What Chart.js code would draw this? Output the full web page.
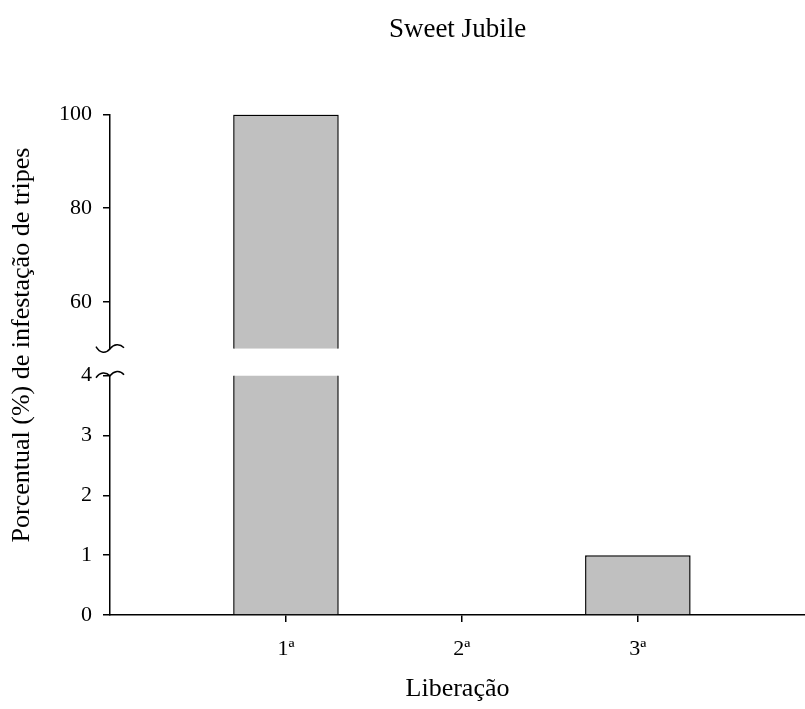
<!DOCTYPE html>
<html><head><meta charset="utf-8">
<script src="https://cdn.jsdelivr.net/npm/chart.js@4/dist/chart.umd.min.js"></script>
<style>html,body{margin:0;padding:0;background:#fff}#wrap{width:805px;height:709px;position:relative}</style>
</head><body><div id="wrap"><canvas id="c" width="805" height="709"></canvas></div>
<script>
const categories = ['1ª', '2ª', '3ª'];
const positions = [1, 2, 3];
const infestation = [100, 0, 1];
const upperTicks = [60, 80, 100];
const lowerTicks = [0, 1, 2, 3, 4];
const chartTitle = 'Sweet Jubile';
const xTitle = 'Liberação';
const yTitle = 'Porcentual (%) de infestação de tripes';

const FONT = "'Liberation Serif', 'Times New Roman', serif";
const BAR_FILL = '#c0c0c0';
const INK = '#000';

const points = positions.map((p, i) => ({x: p, y: infestation[i]}));

const clipPlugin = {
  id: 'clipToAxis',
  beforeDatasetDraw(chart, args) {
    const ds = chart.data.datasets[args.index];
    const sc = chart.scales[ds.yAxisID];
    const ctx = chart.ctx;
    ctx.save();
    ctx.beginPath();
    ctx.rect(chart.chartArea.left, sc.top - 2, chart.chartArea.right - chart.chartArea.left, sc.bottom - sc.top + 2);
    ctx.clip();
  },
  afterDatasetDraw(chart) { chart.ctx.restore(); }
};

const decoPlugin = {
  id: 'deco',
  afterDraw(chart) {
    const ctx = chart.ctx;
    const x0 = chart.chartArea.left;
    const yHi = chart.scales.yHigh.bottom;
    const yLo = chart.scales.yLow.top;
    ctx.save();
    ctx.strokeStyle = INK;
    ctx.lineWidth = 1.5;
    // break marks
    ctx.beginPath();
    ctx.moveTo(x0 - 14, yHi - 2);
    ctx.bezierCurveTo(x0 - 10, yHi + 5, x0 - 4, yHi + 5, x0, yHi);
    ctx.bezierCurveTo(x0 + 4, yHi - 5, x0 + 10, yHi - 5, x0 + 14, yHi - 1);
    ctx.stroke();
    ctx.beginPath();
    ctx.moveTo(x0 - 14, yLo + 2);
    ctx.bezierCurveTo(x0 - 10, yLo - 4, x0 - 4, yLo - 4, x0, yLo);
    ctx.bezierCurveTo(x0 + 4, yLo - 5, x0 + 10, yLo - 6, x0 + 14, yLo - 1);
    ctx.stroke();
    // y axis title
    ctx.fillStyle = INK;
    ctx.font = "26px " + FONT;
    ctx.textAlign = 'center';
    ctx.textBaseline = 'middle';
    ctx.translate(22, 345);
    ctx.rotate(-Math.PI / 2);
    ctx.fillText(yTitle, 0, 0);
    ctx.restore();
  }
};

const tickStyle = {color: INK, font: {family: FONT, size: 22}};
const gridStyle = {display: true, offset: false, drawOnChartArea: false, drawTicks: true, tickLength: 7, color: INK, lineWidth: 1.5};
const borderStyle = {display: true, color: INK, width: 1.5};

new Chart(document.getElementById('c'), {
  type: 'bar',
  data: {
    datasets: [
      {data: points, yAxisID: 'yLow', xAxisID: 'x', backgroundColor: BAR_FILL, borderColor: INK, borderWidth: 1.5, borderSkipped: 'start'},
      {data: points, yAxisID: 'yHigh', xAxisID: 'x', backgroundColor: BAR_FILL, borderColor: INK, borderWidth: 1.5, borderSkipped: 'start'}
    ]
  },
  options: {
    responsive: false,
    devicePixelRatio: 1,
    animation: false,
    grouped: false,
    barPercentage: 0.75,
    categoryPercentage: 0.8,
    layout: {padding: {left: 0, right: 0, top: 0, bottom: 0}},
    plugins: {
      legend: {display: false},
      tooltip: {enabled: false},
      title: {display: true, text: chartTitle, color: INK, font: {family: FONT, size: 27, weight: 'normal'}, padding: {top: 14, bottom: 68}, fullSize: false}
    },
    scales: {
      x: {
        type: 'linear', position: 'bottom', min: 0, max: 3.95, offset: false,
        afterBuildTicks: s => { s.ticks = positions.map(v => ({value: v})); },
        afterFit: s => { s.height = 94; },
        ticks: Object.assign({}, tickStyle, {padding: 14, callback: v => categories[positions.indexOf(v)]}),
        grid: gridStyle, border: borderStyle,
        title: {display: true, text: xTitle, color: INK, font: {family: FONT, size: 26}, padding: {top: 4, bottom: 4}}
      },
      yHigh: {
        type: 'linear', position: 'left', stack: 'v', stackWeight: 234, weight: 2, min: 50, max: 100,
        afterBuildTicks: s => { s.ticks = upperTicks.map(v => ({value: v})); },
        afterFit: s => { s.width = 110; },
        ticks: Object.assign({}, tickStyle, {padding: 11}),
        grid: gridStyle, border: borderStyle
      },
      yGap: {
        type: 'linear', position: 'left', stack: 'v', stackWeight: 27, weight: 1, min: 0, max: 1,
        afterFit: s => { s.width = 110; },
        ticks: {display: false}, grid: {display: false}, border: {display: false}
      },
      yLow: {
        type: 'linear', position: 'left', stack: 'v', stackWeight: 239, weight: 0, min: 0, max: 4,
        afterBuildTicks: s => { s.ticks = lowerTicks.map(v => ({value: v})); },
        afterFit: s => { s.width = 110; },
        ticks: Object.assign({}, tickStyle, {padding: 11}),
        grid: gridStyle, border: borderStyle
      }
    }
  },
  plugins: [clipPlugin, decoPlugin]
});
</script></body></html>
